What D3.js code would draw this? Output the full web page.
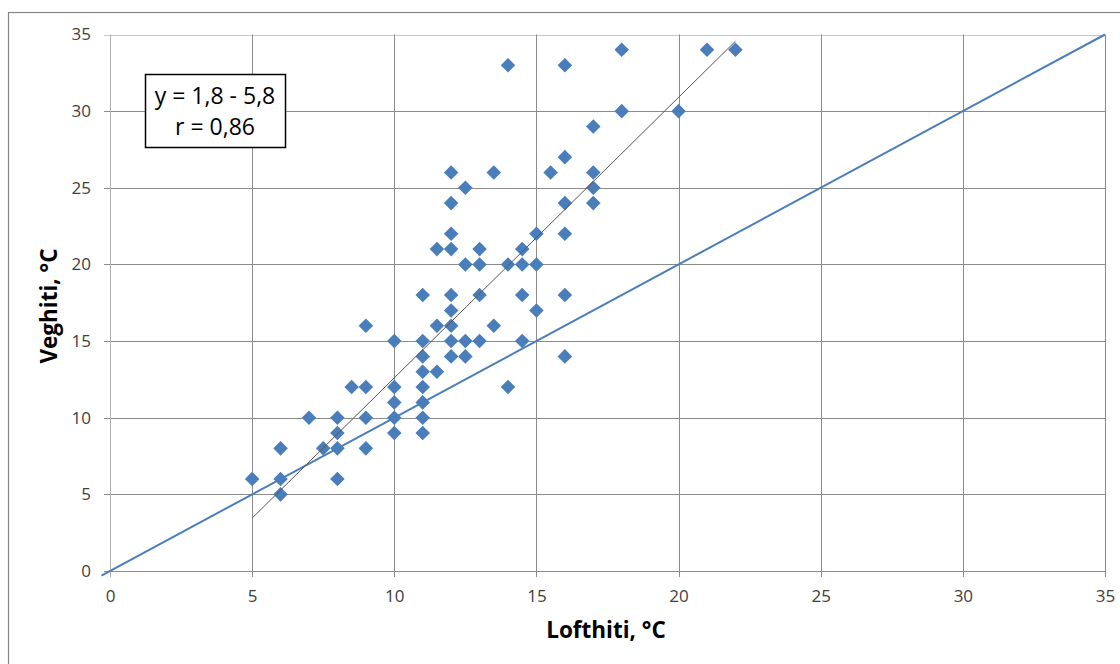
<!DOCTYPE html>
<html>
<head>
<meta charset="utf-8">
<script src="https://cdn.jsdelivr.net/npm/d3@7"></script>
<style>
  html, body { margin: 0; padding: 0; background: #fff; }
  svg { display: block; }
</style>
</head>
<body>
<svg id="chart" width="1120" height="664"></svg>
<script>
// Air temperature (x) vs. wall temperature (y), °C
const loftTemps = [
  5, 6, 6, 6, 7, 7.5, 8, 8, 8, 8, 8.5,
  9, 9, 9, 9,
  10, 10, 10, 10, 10,
  11, 11, 11, 11, 11, 11, 11, 11,
  11.5, 11.5, 11.5,
  12, 12, 12, 12, 12, 12, 12, 12, 12,
  12.5, 12.5, 12.5, 12.5,
  13, 13, 13, 13,
  13.5, 13.5,
  14, 14, 14,
  14.5, 14.5, 14.5, 14.5,
  15, 15, 15,
  15.5,
  16, 16, 16, 16, 16, 16,
  17, 17, 17, 17,
  18, 18, 20, 21, 22
];
const veggTemps = [
  6, 8, 6, 5, 10, 8, 10, 9, 8, 6, 12,
  12, 16, 10, 8,
  15, 12, 11, 10, 9,
  18, 15, 14, 13, 12, 11, 10, 9,
  21, 16, 13,
  26, 24, 22, 21, 18, 17, 16, 15, 14,
  25, 20, 15, 14,
  21, 20, 18, 15,
  26, 16,
  33, 20, 12,
  21, 20, 18, 15,
  22, 20, 17,
  26,
  33, 27, 24, 22, 18, 14,
  29, 26, 25, 24,
  34, 30, 30, 34, 34
];

// Fitted trend line and its x-range
const trendSlope = 1.83;
const trendIntercept = -5.7;
const trendRange = [5, 22];

// Reference line y = x
const identityRange = [-0.3, 35];

const xTicks = [0, 5, 10, 15, 20, 25, 30, 35];
const yTicks = [0, 5, 10, 15, 20, 25, 30, 35];

const statLines = ["y = 1,8 - 5,8", "r = 0,86"];
const xTitle = "Lofthiti, °C";
const yTitle = "Veghiti, °C";

const svg = d3.select("#chart");
const fontFamily = "'Open Sans', 'Liberation Sans', sans-serif";

const plot = { left: 110, right: 1105, top: 34.5, bottom: 571 };
const x = d3.scaleLinear().domain([0, 35]).range([plot.left, plot.right]);
const y = d3.scaleLinear().domain([0, 35]).range([plot.bottom, plot.top]);

// Outer chart frame
svg.append("rect")
  .attr("x", 8.5).attr("y", 12.5)
  .attr("width", 1130).attr("height", 700)
  .attr("fill", "#fff")
  .attr("stroke", "#868686").attr("stroke-width", 1.2);

// Gridlines
const grid = svg.append("g");
grid.selectAll("line.h").data(yTicks).join("line")
  .attr("x1", plot.left - 6).attr("x2", plot.right)
  .attr("y1", d => Math.round(y(d)) + 0.5).attr("y2", d => Math.round(y(d)) + 0.5)
  .attr("stroke", d => d === 35 ? "#c6c6c6" : "#8c8c8c").attr("stroke-width", 1);
grid.selectAll("line.v").data(xTicks).join("line")
  .attr("y1", plot.top).attr("y2", plot.bottom + 6)
  .attr("x1", d => Math.round(x(d)) + 0.5).attr("x2", d => Math.round(x(d)) + 0.5)
  .attr("stroke", d => d === 0 ? "#b0b0b0" : "#8c8c8c").attr("stroke-width", 1);

// Tick labels
const xAxis = d3.axisBottom(x).tickValues(xTicks).tickSize(0).tickPadding(0);
const gx = svg.append("g").attr("transform", `translate(0,${plot.bottom + 31})`).call(xAxis);
gx.select(".domain").remove();
gx.selectAll("text").attr("dy", 0)
  .style("font-family", fontFamily).style("font-size", "17px").attr("fill", "#404040");

const yAxis = d3.axisLeft(y).tickValues(yTicks).tickSize(0).tickPadding(0);
const gy = svg.append("g").attr("transform", `translate(${plot.left - 19},0)`).call(yAxis);
gy.select(".domain").remove();
gy.selectAll("text")
  .style("font-family", fontFamily).style("font-size", "17px").attr("fill", "#404040");

// Axis titles
svg.append("text")
  .attr("x", 606).attr("y", 638)
  .attr("text-anchor", "middle")
  .style("font-family", fontFamily).style("font-size", "22.5px").style("font-weight", "bold")
  .attr("fill", "#000")
  .text(xTitle);
svg.append("text")
  .attr("transform", "translate(57,306) rotate(-90)")
  .attr("text-anchor", "middle")
  .style("font-family", fontFamily).style("font-size", "22.5px").style("font-weight", "bold")
  .attr("fill", "#000")
  .text(yTitle);

// y = x reference line
svg.append("line")
  .attr("x1", x(identityRange[0])).attr("y1", y(identityRange[0]))
  .attr("x2", x(identityRange[1])).attr("y2", y(identityRange[1]))
  .attr("stroke", "#4a7ebb").attr("stroke-width", 2);

// Scatter points (diamonds)
const pts = loftTemps.map((v, i) => [v, veggTemps[i]]);
const diamond = d3.symbol().type(d3.symbolDiamond2).size(135);
svg.append("g").selectAll("path").data(pts).join("path")
  .attr("d", diamond)
  .attr("transform", d => `translate(${x(d[0])},${y(d[1])})`)
  .attr("fill", "#4a7ebb");

// Linear trend line
svg.append("line")
  .attr("x1", x(trendRange[0])).attr("y1", y(trendSlope * trendRange[0] + trendIntercept))
  .attr("x2", x(trendRange[1])).attr("y2", y(trendSlope * trendRange[1] + trendIntercept))
  .attr("stroke", "#555").attr("stroke-width", 1);

// Equation / correlation box
const box = svg.append("g");
box.append("rect")
  .attr("x", 145.5).attr("y", 74.5).attr("width", 140).attr("height", 73)
  .attr("fill", "#fff").attr("stroke", "#000").attr("stroke-width", 1.5);
box.selectAll("text").data(statLines).join("text")
  .attr("x", 215).attr("y", (d, i) => 104 + i * 31)
  .attr("text-anchor", "middle")
  .style("font-family", fontFamily).style("font-size", "23px")
  .attr("fill", "#000")
  .text(d => d);
</script>
</body>
</html>
